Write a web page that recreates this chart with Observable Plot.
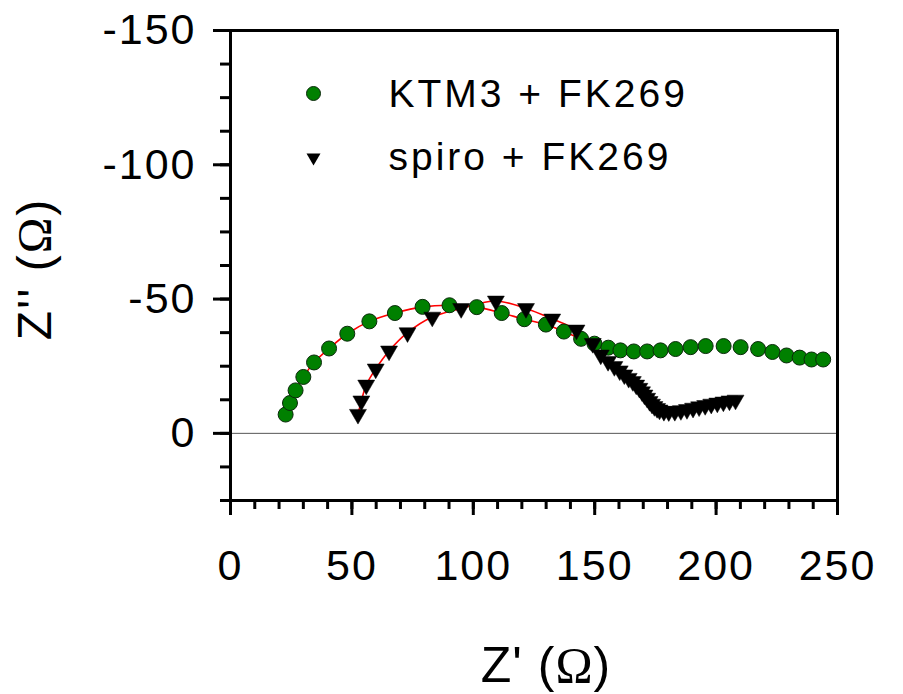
<!DOCTYPE html>
<html>
<head>
<meta charset="utf-8">
<script src="https://cdn.jsdelivr.net/npm/d3@7"></script>
<script src="https://cdn.jsdelivr.net/npm/@observablehq/plot@0.6"></script>
<style>
  html, body { margin: 0; padding: 0; background: #fff; }
  #chart svg { display: block; font-family: "Liberation Sans", Arial, sans-serif; }
</style>
</head>
<body>
<div id="chart"></div>
<script>
// ---- data ----
const seriesNames = ["KTM3 + FK269", "spiro + FK269"];
const ktmX = [22.7, 24.5, 26.8, 30.0, 34.4, 40.6, 48.1, 57.2, 67.7, 79.1, 90.2, 101.4, 111.7, 121.0, 129.9, 137.3, 144.4, 149.9, 155.6, 160.6, 166.1, 171.6, 177.1, 183.3, 189.5, 195.7, 203.1, 210.1, 217.3, 223.2, 229.0, 234.4, 239.3, 244.1];
const ktmY = [-7.0, -11.3, -16.0, -21.0, -26.4, -31.6, -37.1, -41.7, -44.8, -47.1, -47.7, -47.0, -44.8, -42.5, -40.5, -37.9, -35.2, -33.4, -31.9, -30.9, -30.5, -30.5, -30.9, -31.4, -32.1, -32.5, -32.5, -32.1, -31.4, -30.3, -29.0, -28.2, -27.5, -27.5];
const spiroX = [52.5, 53.9, 55.9, 59.8, 65.3, 72.9, 83.1, 95.0, 109.3, 121.7, 132.5, 142.5, 149.2, 152.5, 155.5, 158.1, 160.3, 162.2, 164.0, 165.7, 167.1, 168.4, 169.5, 170.5, 171.6, 172.6, 173.6, 174.6, 175.7, 176.7, 178.5, 180.5, 183.0, 185.5, 188.0, 190.5, 193.0, 195.5, 198.0, 200.5, 203.0, 205.5, 208.0];
const spiroY = [-7.1, -12.1, -18.0, -24.0, -30.7, -37.5, -43.3, -46.5, -49.3, -46.5, -42.6, -38.5, -33.5, -29.2, -26.8, -24.9, -23.3, -21.8, -20.5, -19.3, -18.0, -16.8, -15.5, -14.3, -13.1, -11.9, -10.9, -10.0, -9.3, -8.7, -8.2, -8.1, -8.2, -8.5, -8.9, -9.4, -9.9, -10.4, -10.9, -11.3, -11.7, -12.1, -12.4];
const fitMaxX = 156; // fitted arc drawn over the high-frequency semicircle
const xMajor = [0, 50, 100, 150, 200, 250];
const xMinor = d3.range(0, 251, 10);
const yMajor = [-150, -100, -50, 0];
const yMinor = d3.range(-150, 25.1, 12.5);
const xTitle = "Z' (";
const yTitle = "Z'' (";

// ---- tables ----
const ktm = ktmX.map((x, i) => ({x, y: ktmY[i]}));
const spiro = spiroX.map((x, i) => ({x, y: spiroY[i]}));
const ktmFit = ktm.filter(d => d.x <= fitMaxX);
const spiroFit = spiro.filter(d => d.x <= fitMaxX);

const green = "#008000";

const plot = Plot.plot({
  width: 903,
  height: 694,
  marginLeft: 230,
  marginRight: 66,
  marginTop: 30,
  marginBottom: 194,
  style: {fontFamily: "'Liberation Sans', Arial, sans-serif", color: "#000", background: "#fff"},
  x: {domain: [0, 250]},
  y: {domain: [25, -150]},
  marks: [
    Plot.ruleY([0], {stroke: "#555", strokeWidth: 1}),
    Plot.line(ktmFit, {x: "x", y: "y", stroke: "red", strokeWidth: 1.6, curve: "catmull-rom"}),
    Plot.line(spiroFit, {x: "x", y: "y", stroke: "red", strokeWidth: 1.6, curve: "catmull-rom"}),
    Plot.dot(ktm, {x: "x", y: "y", r: 7.5, fill: green, stroke: "#0b2a0b", strokeWidth: 1}),
    Plot.dot(spiro, {x: "x", y: "y", symbol: "triangle", rotate: 180, r: 6.3, fill: "#000", stroke: "#000", strokeWidth: 0.5}),
    // legend
    Plot.dot([seriesNames[0]], {frameAnchor: "top-left", dx: 83, dy: 63, r: 7, fill: green, stroke: "#0b2a0b", strokeWidth: 1}),
    Plot.dot([seriesNames[1]], {frameAnchor: "top-left", dx: 83, dy: 127, symbol: "triangle", rotate: 180, r: 5.2, fill: "#000"}),
    Plot.text([seriesNames[0]], {frameAnchor: "top-left", dx: 158, dy: 64, text: d => d, textAnchor: "start", lineAnchor: "middle", fontSize: 39, fill: "#000", className: "legend-text"}),
    Plot.text([seriesNames[1]], {frameAnchor: "top-left", dx: 158, dy: 127, text: d => d, textAnchor: "start", lineAnchor: "middle", fontSize: 39, fill: "#000", className: "legend-text"}),
    // axes
    Plot.axisX(xMinor, {anchor: "bottom", tickSize: 9, strokeWidth: 3, tickFormat: () => "", label: null}),
    Plot.axisX(xMajor, {anchor: "bottom", tickSize: 15, strokeWidth: 3, tickPadding: 34, fontSize: 43, tickFormat: d => String(d), label: null}),
    Plot.axisY(yMinor, {anchor: "left", tickSize: 10, strokeWidth: 3, tickFormat: () => "", label: null}),
    Plot.axisY(yMajor, {anchor: "left", tickSize: 17, strokeWidth: 3, tickPadding: 17, fontSize: 43, tickFormat: d => String(d), label: null}),
    Plot.frame({stroke: "#000", strokeWidth: 3})
  ]
});

document.getElementById("chart").appendChild(plot);

// widen glyph spacing a little to match the reference's wide sans face
d3.select(plot).selectAll("text").style("letter-spacing", "2px");
d3.select(plot).selectAll(".legend-text text").style("letter-spacing", "3px");

// axis titles with a serif Omega
const svg = d3.select(plot);
const xt = svg.append("text")
  .attr("x", 546).attr("y", 682)
  .attr("text-anchor", "middle")
  .style("font-size", "50px").style("letter-spacing", "1px")
  .attr("fill", "#000");
xt.append("tspan").text(xTitle);
xt.append("tspan").style("font-family", "'Liberation Serif', 'Times New Roman', serif").text("Ω");
xt.append("tspan").text(")");

const yt = svg.append("text")
  .attr("transform", "translate(51,269) rotate(-90)")
  .attr("text-anchor", "middle")
  .style("font-size", "48px").style("letter-spacing", "2px")
  .attr("fill", "#000");
yt.append("tspan").text(yTitle);
yt.append("tspan").style("font-family", "'Liberation Serif', 'Times New Roman', serif").text("Ω");
yt.append("tspan").text(")");
</script>
</body>
</html>
